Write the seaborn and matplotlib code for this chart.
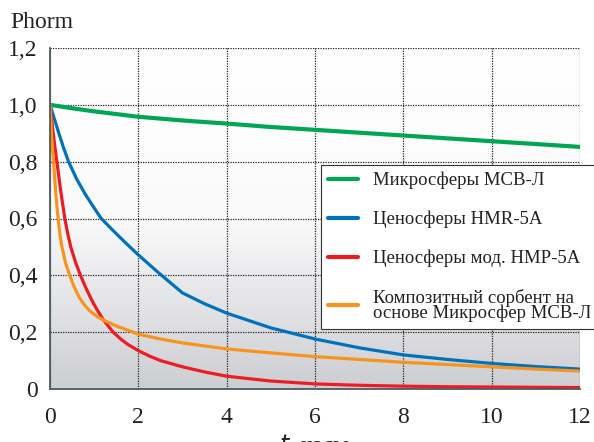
import numpy as np
import pandas as pd
import matplotlib
matplotlib.use("Agg")
import matplotlib.pyplot as plt
from matplotlib import font_manager as fm
from matplotlib.colors import LinearSegmentedColormap
import seaborn as sns

# values
t_green = [0, 0.5, 1, 2, 3, 4, 5, 6, 7, 8, 9, 10, 11, 12]
y_green = [1.0, 0.988, 0.977, 0.958, 0.945, 0.934, 0.922, 0.912, 0.902, 0.892, 0.882, 0.872, 0.862, 0.852]

t_blue = [0, 0.1, 0.2, 0.3, 0.42, 0.6, 0.8, 1.0, 1.16, 1.4, 1.7, 2.0, 2.45, 3, 3.5, 4, 5, 6, 7, 8, 9, 10, 11, 12]
y_blue = [1.0, 0.95, 0.9, 0.852, 0.8, 0.74, 0.685, 0.637, 0.6, 0.562, 0.516, 0.472, 0.41, 0.338, 0.3, 0.267,
          0.215, 0.176, 0.145, 0.12, 0.104, 0.09, 0.079, 0.07]

t_red = [0, 0.05, 0.1, 0.16, 0.24, 0.33, 0.4, 0.47, 0.58, 0.69, 0.8, 0.935, 1.05, 1.2, 1.43, 1.6, 1.76, 2,
         2.25, 2.5, 3, 3.5, 4, 5, 6, 7, 8, 9, 10, 11, 12]
y_red = [1.0, 0.93, 0.865, 0.795, 0.7, 0.605, 0.548, 0.5, 0.445, 0.4, 0.36, 0.316, 0.283, 0.245, 0.2, 0.176,
         0.157, 0.135, 0.116, 0.1, 0.078, 0.06, 0.045, 0.028, 0.018, 0.013, 0.01, 0.008, 0.007, 0.006, 0.005]

t_orange = [0, 0.04, 0.09, 0.13, 0.17, 0.22, 0.27, 0.35, 0.445, 0.55, 0.67, 0.8, 0.9, 1.05, 1.2, 1.5, 1.76,
            2, 2.5, 3, 4, 5, 6, 7, 8, 9, 10, 11, 12]
y_orange = [1.0, 0.88, 0.78, 0.69, 0.62, 0.55, 0.5, 0.445, 0.4, 0.358, 0.32, 0.292, 0.275, 0.257, 0.243,
            0.222, 0.207, 0.193, 0.176, 0.162, 0.141, 0.127, 0.114, 0.104, 0.094, 0.086, 0.078, 0.07, 0.063]

labels = ['Микросферы МСВ-Л', 'Ценосферы HMR-5A', 'Ценосферы мод. HMP-5A',
          'Композитный сорбент на\nоснове Микросфер МСВ-Л']
colors = ['#00a651', '#0072bc', '#ed1c24', '#f7941d']

x_ticks = [0, 2, 4, 6, 8, 10, 12]
y_ticks = [0, 0.2, 0.4, 0.6, 0.8, 1.0, 1.2]
y_tick_labels = ['0', '0,2', '0,4', '0,6', '0,8', '1,0', '1,2']


def font_path(name):
    # pick the regular face file directly
    for f in fm.fontManager.ttflist:
        if f.name == name and f.style == 'normal' and f.weight in (400, 'normal', 'regular'):
            return f.fname
    return None


serif_file = font_path('Liberation Serif')
fp_tick = fm.FontProperties(fname=serif_file, size=17)
fp_leg = fm.FontProperties(fname=serif_file, size=13.5)

sns.set_style('white')
plt.rcParams['mathtext.fontset'] = 'stix'

fig = plt.figure(figsize=(5.94, 4.42), dpi=100)
ax = fig.add_axes([50 / 594, 53 / 442, 530 / 594, 341 / 442])

# grey gradient background
cmap = LinearSegmentedColormap.from_list('bg', ['#ffffff', '#fafafb', '#cdced2'])
grad = np.linspace(1, 0, 256).reshape(-1, 1)
ax.imshow(grad, cmap=cmap, extent=[0, 12, 0, 1.2], aspect='auto', origin='lower', zorder=0)

series = [(t_green, y_green), (t_blue, y_blue), (t_red, y_red), (t_orange, y_orange)]
widths = [3.0, 2.3, 2.3, 2.3]
for (tt, yy), lab, col, lw in zip(series, labels, colors, widths):
    df = pd.DataFrame({'t': tt, 'y': yy})
    sns.lineplot(data=df, x='t', y='y', color=col, lw=lw, label=lab, ax=ax, zorder=3)

ax.set_xlim(0, 12)
ax.set_ylim(0, 1.2)
ax.set_xticks(x_ticks)
ax.set_xticklabels([str(v) for v in x_ticks])
ax.set_yticks(y_ticks)
ax.set_yticklabels(y_tick_labels)
ax.grid(True, color='#222222', linestyle=(0, (1, 1)), lw=0.9, zorder=1)
ax.set_axisbelow(False)
for s in ['top', 'right']:
    ax.spines[s].set_visible(False)
for s in ['left', 'bottom']:
    ax.spines[s].set_color('#4d5b5e')
    ax.spines[s].set_linewidth(1.3)
    ax.spines[s].set_zorder(4)
ax.tick_params(direction='out', length=5, width=1.2, color='#4d5b5e', pad=4, labelcolor='#222222')
ax.tick_params(axis='x', pad=8)
for lbl in ax.get_xticklabels() + ax.get_yticklabels():
    lbl.set_fontproperties(fp_tick)

ax.set_xlabel(r'$t$, часы', fontproperties=fp_tick, color='#222222', labelpad=3)
ax.set_ylabel('')
fig.text(10 / 594, 1 - 22 / 442, 'Phorm', fontproperties=fp_tick, va='center', ha='left', color='#222222')

leg = ax.legend(loc='upper left', bbox_to_anchor=(321 / 594, 1 - 165 / 442),
                bbox_transform=fig.transFigure, prop=fp_leg,
                frameon=True, fancybox=False,
                framealpha=1, edgecolor='#333333', borderpad=0.35, labelspacing=1.15,
                handlelength=1.6, handletextpad=0.8, borderaxespad=0)
leg.get_frame().set_linewidth(0.8)
for line in leg.get_lines():
    line.set_linewidth(3)
for txt in leg.get_texts():
    txt.set_color('#222222')
leg.get_texts()[-1].set_linespacing(0.85)
leg.set_zorder(5)

fig.savefig('out.png', dpi=100)
